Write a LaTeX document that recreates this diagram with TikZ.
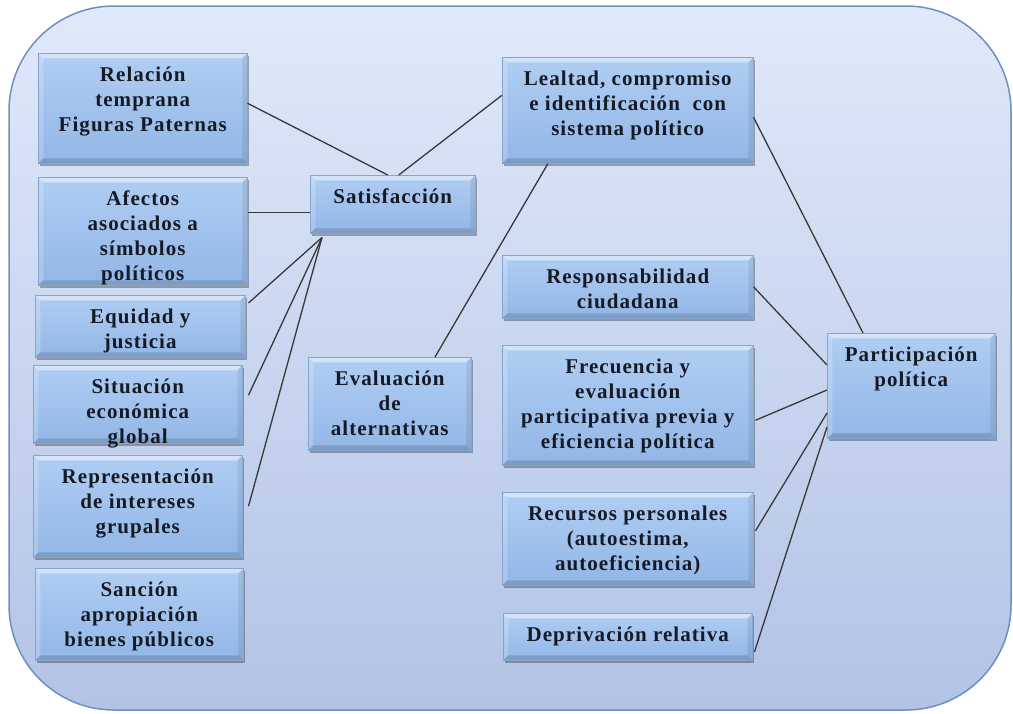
\documentclass[tikz,border=0pt]{standalone}
\usepackage{fontspec}
\setmainfont{Liberation Serif}
\usetikzlibrary{calc,shadows}
\definecolor{bgtop}{HTML}{E0E9FA}
\definecolor{bgbot}{HTML}{B2C3E5}
\definecolor{bgline}{HTML}{6E8FC2}
\definecolor{boxtop}{HTML}{B0CEF3}
\definecolor{boxbot}{HTML}{92B6E6}
\definecolor{boxline}{HTML}{86A6D2}
\definecolor{linkc}{HTML}{383838}
\definecolor{txtc}{HTML}{161A24}
\tikzset{
  boxnode/.style={rectangle, inner sep=0pt, top color=boxtop, bottom color=boxbot,
    draw=boxline, line width=0.5pt,
    drop shadow={shadow xshift=2pt, shadow yshift=-3pt, fill=black, opacity=0.3},
    path picture={
      \fill[white, opacity=0.45] (path picture bounding box.north west) -- (path picture bounding box.north east)
        -- ([shift={(-5pt,-5pt)}]path picture bounding box.north east) -- ([shift={(5pt,-5pt)}]path picture bounding box.north west) -- cycle;
      \fill[white, opacity=0.2] (path picture bounding box.north west) -- ([shift={(5pt,-5pt)}]path picture bounding box.north west)
        -- ([shift={(5pt,5pt)}]path picture bounding box.south west) -- (path picture bounding box.south west) -- cycle;
      \fill[black, opacity=0.08] (path picture bounding box.north east) -- ([shift={(-5pt,-5pt)}]path picture bounding box.north east)
        -- ([shift={(-5pt,5pt)}]path picture bounding box.south east) -- (path picture bounding box.south east) -- cycle;
      \fill[black, opacity=0.14] (path picture bounding box.south west) -- ([shift={(5pt,5pt)}]path picture bounding box.south west)
        -- ([shift={(-5pt,5pt)}]path picture bounding box.south east) -- (path picture bounding box.south east) -- cycle;
    }},
  txt/.style={align=center, inner sep=0pt, text=txtc,
    font=\fontsize{21}{25}\selectfont\bfseries\addfontfeature{LetterSpace=5}, anchor=north},
  link/.style={draw=linkc, line width=1.3pt},
}
\newcommand\mkbox[6]{%
  \node[boxnode, anchor=north west, minimum width={#4pt-#2pt}, minimum height={#5pt-#3pt}] (#1) at (#2,#3) {};
  \node[txt] (#1t) at ([yshift=-10.5pt]#1.north) {\strut #6};
}
\begin{document}
\begin{tikzpicture}[x=1pt,y=-1pt]
\useasboundingbox (0,0) rectangle (1013,713);
\fill[top color=bgtop, bottom color=bgbot, draw=bgline, line width=1.5pt, rounded corners=105pt] (9,6) rectangle (1011,710);

\mkbox{rel}{38}{53}{247}{163}{Relación\\temprana\\Figuras Paternas}
\mkbox{afe}{38}{177}{247}{285}{Afectos\\asociados a\\símbolos\\políticos}
\mkbox{equ}{35}{295}{245}{357}{Equidad y\\justicia}
\mkbox{sit}{33}{365}{242}{443}{Situación\\económica\\global}
\mkbox{rep}{33}{455}{242}{557}{Representación\\de intereses\\grupales}
\mkbox{san}{35}{568}{243}{660}{Sanción\\apropiación\\bienes públicos}
\mkbox{sat}{310}{175}{475}{233}{Satisfacción}
\mkbox{eva}{308}{357}{471}{450}{Evaluación\\de\\alternativas}
\mkbox{lea}{502}{57}{753}{163}{Lealtad, compromiso\\e identificación~ con\\sistema político}
\mkbox{res}{502}{255}{753}{318}{Responsabilidad\\ciudadana}
\mkbox{fre}{502}{345}{753}{465}{Frecuencia y\\evaluación\\participativa previa y\\eficiencia política}
\mkbox{rec}{502}{492}{753}{585}{Recursos personales\\(autoestima,\\autoeficiencia)}
\mkbox{dep}{503}{613}{752}{660}{Deprivación relativa}
\mkbox{par}{827}{333}{995}{438}{Participación\\política}

\coordinate (satin) at ([xshift=12pt,yshift=-4pt]sat.south west);
\coordinate (sataf) at ([yshift=-8pt]sat.west);

\draw[link] ([yshift=5pt]rel.east) -- ([xshift=-5pt]sat.north);
\draw[link] ([xshift=6pt]sat.north) -- ([yshift=15pt]lea.west);
\draw[link] (afe.east |- sataf) -- (sataf);
\draw[link] ([xshift=3pt,yshift=-8pt]equ.north east) -- (satin);
\draw[link] ([xshift=6pt,yshift=9pt]sit.east) -- (satin);
\draw[link] ([xshift=6pt]rep.east) -- (satin);
\draw[link] ([xshift=46pt]lea.south west) -- ([xshift=127pt]eva.north west);
\draw[link] ([yshift=-7pt]lea.east) -- ([xshift=36pt]par.north west);
\draw[link] (res.east) -- ([yshift=-32pt]par.north west);
\draw[link] ([xshift=2pt,yshift=-15pt]fre.east) -- ([yshift=-57pt]par.north west);
\draw[link] ([xshift=2pt,yshift=8pt]rec.east) -- ([yshift=-80pt]par.north west);
\draw[link] ([xshift=2pt,yshift=-15pt]dep.east) -- ([yshift=-94pt]par.north west);
\end{tikzpicture}
\end{document}
